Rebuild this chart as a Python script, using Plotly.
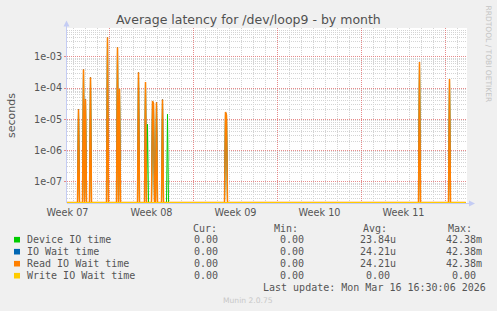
import plotly.graph_objects as go
import pandas as pd

# ---------------- data ----------------
SERIES_NAMES = ["Device IO time", "IO Wait time", "Read IO Wait time", "Write IO Wait time"]
SERIES_COLORS = ["#00CC00", "#0066B3", "#FF8000", "#FFCC00"]

SPIKE_TIMES = [
    "2026-02-12 10:00", "2026-02-12 20:00", "2026-02-13 00:00", "2026-02-13 10:00",
    "2026-02-14 20:00", "2026-02-15 16:00", "2026-02-15 20:00", "2026-02-17 10:00",
    "2026-02-18 00:00", "2026-02-18 04:00", "2026-02-18 14:00", "2026-02-18 16:00",
    "2026-02-18 22:00", "2026-02-19 10:00", "2026-02-19 20:00", "2026-02-24 16:00",
    "2026-02-24 18:00", "2026-03-12 20:00", "2026-03-15 08:00",
]
DEVICE_IO = [2.0e-5, 3.8e-4, 4.2e-5, 2.2e-4, 4.0e-3, 1.9e-3, 9.0e-5, 3.0e-4,
             1.5e-4, 7.0e-6, 3.6e-5, 3.0e-5, 3.3e-5, 4.1e-5, 1.45e-5, 1.6e-5,
             1.3e-5, 6.5e-4, 1.85e-4]
IO_WAIT = [2.1e-5, 4.0e-4, 4.4e-5, 2.2e-4, 4.2e-3, 2.0e-3, 9.3e-5, 3.2e-4,
           1.55e-4, 0.0, 3.8e-5, 3.2e-5, 3.5e-5, 4.3e-5, 0.0, 1.7e-5,
           1.35e-5, 6.8e-4, 1.93e-4]
READ_IO_WAIT = [2.1e-5, 4.0e-4, 4.4e-5, 2.2e-4, 4.2e-3, 2.0e-3, 9.3e-5, 3.2e-4,
                1.55e-4, 0.0, 3.8e-5, 3.2e-5, 3.5e-5, 4.3e-5, 0.0, 1.7e-5,
                1.35e-5, 6.8e-4, 1.93e-4]
WRITE_IO_WAIT = [0.0, 0.0, 0.0, 0.0, 0.0, 0.0, 0.0, 0.0, 0.0, 0.0,
                 0.0, 0.0, 0.0, 0.0, 0.0, 0.0, 0.0, 0.0, 0.0]
SERIES_VALUES = [DEVICE_IO, IO_WAIT, READ_IO_WAIT, WRITE_IO_WAIT]
LINE_WIDTHS = [1, 1, 1.5, 1]

CUR_VALS = ["0.00", "0.00", "0.00", "0.00"]
MIN_VALS = ["0.00", "0.00", "0.00", "0.00"]
AVG_VALS = ["23.84u", "24.21u", "24.21u", "0.00"]
MAX_VALS = ["42.38m", "42.38m", "42.38m", "0.00"]

LAST_SAMPLE = "2026-03-16 16:30"
X_START = "2026-02-11 11:00"
X_END = "2026-03-16 19:00"      # 800 h over 400 px -> week lines on pixel centres
STEP = pd.Timedelta(hours=2)

WEEK_LABEL_POS = ["2026-02-11 12:00", "2026-02-18 12:00", "2026-02-25 12:00",
                  "2026-03-04 12:00", "2026-03-11 12:00"]
WEEK_LABELS = ["Week 07", "Week 08", "Week 09", "Week 10", "Week 11"]
WEEK_STARTS = ["2026-02-15", "2026-02-22", "2026-03-01", "2026-03-08", "2026-03-15"]

Y_LOG_RANGE = [-7.68, -2.08]
Y_TICK_VALS = [1e-7, 1e-6, 1e-5, 1e-4, 1e-3]
Y_TICK_TEXT = ["1e-07", "1e-06", "1e-05", "1e-04", "1e-03"]

TITLE = "Average latency for /dev/loop9 - by month"
LAST_UPDATE = "Last update: Mon Mar 16 16:30:06 2026"

# ---------------- layout geometry ----------------
W, H = 497, 311
L, R, T, B = 67, 467, 28, 203


def px(x):
    return (x - L) / (R - L)


def py(y):
    return (B - y) / (B - T)


# rrdtool draws zero at the bottom of a log graph (half a pixel inside)
FLOOR = 10 ** (Y_LOG_RANGE[0] + 0.5 / 31.25)

MAJOR_GRID = "rgba(225,110,110,0.8)"
MINOR_GRID = "#d4d4d4"
AXIS_COL = "#c4ccf4"
TXT = "#555555"

# build the time points: spikes, their zero neighbours and the data ends
spike_ts = [pd.Timestamp(t) for t in SPIKE_TIMES]
times = {pd.Timestamp(X_START), pd.Timestamp(LAST_SAMPLE)}
for t in spike_ts:
    times.update([t - STEP, t, t + STEP])
times = sorted(times)

fig = go.Figure()

# weekly (major) vertical grid lines, drawn first so the data sits on top
wk_x, wk_y = [], []
for wk in WEEK_STARTS:
    wk_x += [wk, wk, None]
    wk_y += [10 ** Y_LOG_RANGE[0], 10 ** Y_LOG_RANGE[1], None]
fig.add_trace(go.Scatter(x=wk_x, y=wk_y, mode="lines", connectgaps=False,
                         line=dict(color=MAJOR_GRID, width=1, dash="1px,1px"),
                         showlegend=False, hoverinfo="skip"))

for name, color, vals, lw in zip(SERIES_NAMES, SERIES_COLORS, SERIES_VALUES, LINE_WIDTHS):
    lookup = dict(zip(spike_ts, vals))
    ys = [max(lookup.get(t, 0.0), FLOOR) for t in times]
    fig.add_trace(go.Scatter(x=times, y=ys, mode="lines", name=name,
                             line=dict(color=color, width=lw),
                             showlegend=False, hoverinfo="skip"))

minor_y = [k * 10 ** e for e in range(-8, -2) for k in range(2, 10)]
# daily minor grid, leaving out the week starts (drawn in red)
week_set = {pd.Timestamp(w) for w in WEEK_STARTS}
minor_x = [d for d in pd.date_range("2026-02-12", "2026-03-16", freq="D") if d not in week_set]

fig.update_layout(
    width=W, height=H, autosize=False,
    margin=dict(l=L, r=W - R, t=T, b=H - B, pad=0),
    paper_bgcolor="#F0F0F0", plot_bgcolor="#FFFFFF",
    showlegend=False,
    xaxis=dict(type="date", range=[X_START, X_END], tickmode="array",
               tickvals=WEEK_LABEL_POS, ticktext=WEEK_LABELS,
               showgrid=False, zeroline=False, showline=False, ticks="",
               tickfont=dict(family="DejaVu Sans", size=9.7, color=TXT),
               ticklabelstandoff=2,
               minor=dict(tickmode="array", tickvals=minor_x,
                          showgrid=True, gridcolor=MINOR_GRID, griddash="1px,1px",
                          ticks="")),
    yaxis=dict(type="log", range=Y_LOG_RANGE, tickmode="array",
               tickvals=Y_TICK_VALS, ticktext=Y_TICK_TEXT,
               showgrid=True, gridcolor=MAJOR_GRID, griddash="1px,1px", gridwidth=1,
               ticks="outside", ticklen=2, tickcolor=MAJOR_GRID,
               zeroline=False, showline=False,
               tickfont=dict(family="DejaVu Sans", size=9.7, color=TXT),
               minor=dict(tickmode="array", tickvals=minor_y, showgrid=True,
                          gridcolor=MINOR_GRID, griddash="1px,1px", ticks="")),
)

shapes = []
# axis lines and arrows
shapes.append(dict(type="line", xref="paper", yref="paper", layer="above",
                   x0=px(66.5), x1=px(66.5), y0=py(203), y1=py(25),
                   line=dict(color=AXIS_COL, width=1)))
shapes.append(dict(type="line", xref="paper", yref="paper", layer="below",
                   x0=px(67), x1=px(471), y0=py(203.5), y1=py(203.5),
                   line=dict(color=AXIS_COL, width=1)))
shapes.append(dict(type="path", xref="paper", yref="paper", layer="above",
                   path=f"M {px(63.5)},{py(26.5)} L {px(69.5)},{py(26.5)} L {px(66.5)},{py(20.5)} Z",
                   fillcolor=AXIS_COL, line=dict(width=0)))
shapes.append(dict(type="path", xref="paper", yref="paper", layer="above",
                   path=f"M {px(469)},{py(200.5)} L {px(469)},{py(206.5)} L {px(475)},{py(203.5)} Z",
                   fillcolor=AXIS_COL, line=dict(width=0)))

annotations = []


def text(x, y, s, size, color, family="DejaVu Sans", xanchor="left", angle=0):
    annotations.append(dict(x=px(x), y=py(y), xref="paper", yref="paper", text=s,
                            showarrow=False, xanchor=xanchor, yanchor="middle",
                            textangle=angle, borderpad=0,
                            font=dict(family=family, size=size, color=color)))


text(248, 19, TITLE, 12.5, "#505050", xanchor="center")
text(11.5, 115.5, "seconds", 11, TXT, xanchor="center", angle=-90)
text(488, 53.5, "RRDTOOL / TOBI OETIKER", 7.5, "#c4c4c4", xanchor="center", angle=90)
text(248, 300, "Munin 2.0.75", 7.6, "#c8c8c8", xanchor="center")

MONO = "DejaVu Sans Mono"
FS = 10
CW = 6.02
ROW_Y = [239.7, 251.7, 263.7, 275.7]
HEAD_Y = 228.3
text(191.7, HEAD_Y, "Cur:", FS, TXT, MONO)
text(273.3, HEAD_Y, "Min:", FS, TXT, MONO)
text(361.7, HEAD_Y, "Avg:", FS, TXT, MONO)
text(446.7, HEAD_Y, "Max:", FS, TXT, MONO)

COL_RIGHT = [219.3, 305.0, 391.2, 477.0]  # right edge of the numeric part
for i, (name, color) in enumerate(zip(SERIES_NAMES, SERIES_COLORS)):
    yy = ROW_Y[i]
    shapes.append(dict(type="rect", xref="paper", yref="paper", layer="above",
                       x0=px(14), x1=px(20), y0=py(yy - 2.8), y1=py(yy + 2.8),
                       fillcolor=color, line=dict(width=0)))
    text(26, yy, name, FS, TXT, MONO)
    for col, vals in enumerate([CUR_VALS, MIN_VALS, AVG_VALS, MAX_VALS]):
        s = vals[i]
        has_unit = s[-1].isalpha()
        text(COL_RIGHT[col] + (CW if has_unit else 0), yy, s, FS, TXT, MONO, xanchor="right")

text(261.7, 287.3, LAST_UPDATE, FS, TXT, MONO)

fig.update_layout(shapes=shapes, annotations=annotations)
fig.write_html("out.html", config={"displayModeBar": False})
